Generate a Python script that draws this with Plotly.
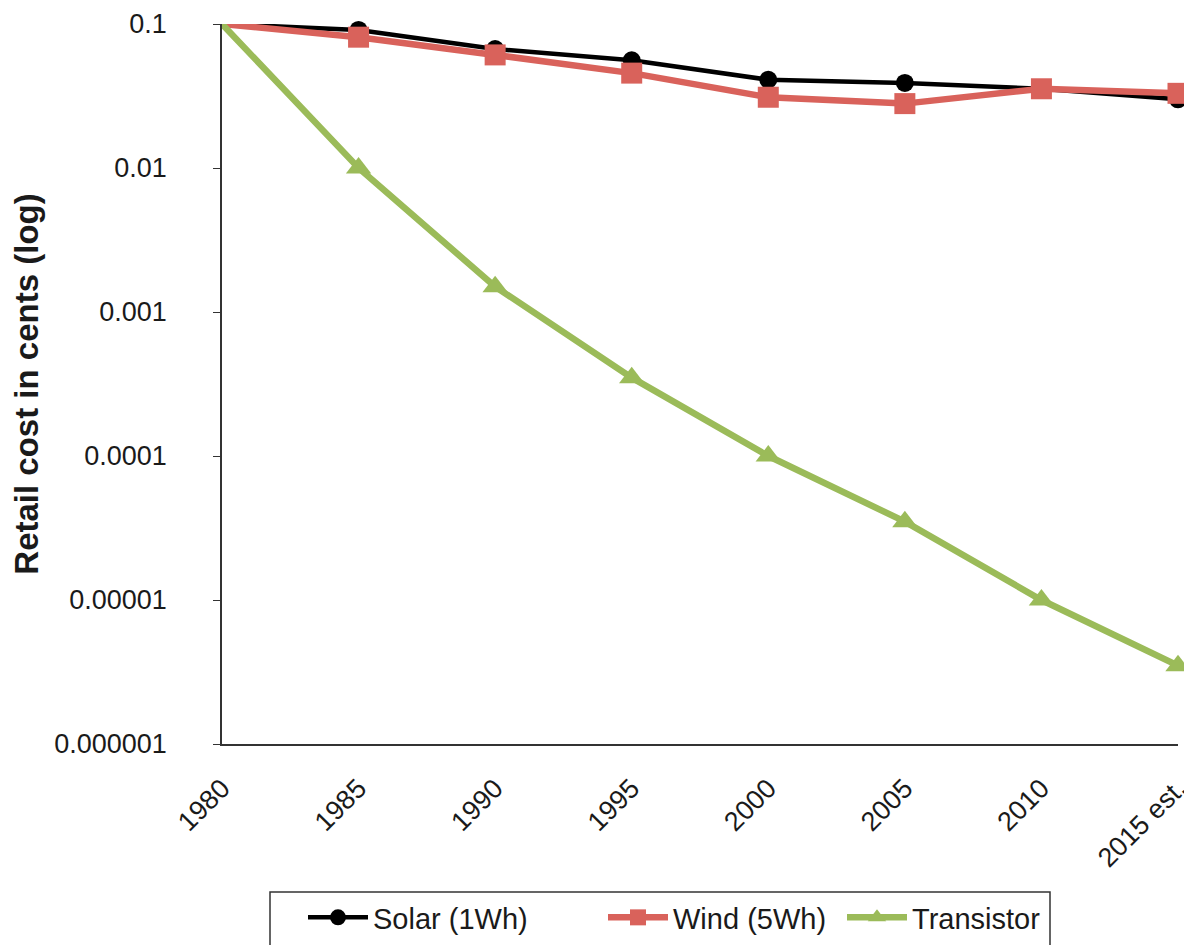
import plotly.graph_objects as go

years = ["1980", "1985", "1990", "1995", "2000", "2005", "2010", "2015 est."]
solar = [0.1, 0.091, 0.067, 0.056, 0.041, 0.039, 0.0355, 0.030]
wind = [0.1, 0.081, 0.061, 0.0456, 0.031, 0.028, 0.0355, 0.033]
transistor = [0.1, 0.01, 0.0015, 0.00035, 0.0001, 0.000035, 0.00001, 0.0000035]

ytick_vals = [0.1, 0.01, 0.001, 0.0001, 0.00001, 0.000001]
ytick_text = ["0.1", "0.01", "0.001", "0.0001", "0.00001", "0.000001"]

font_family = "Arial, Liberation Sans, sans-serif"
txt = "#1a1a1a"

fig = go.Figure()
fig.add_trace(go.Scatter(x=years, y=solar, name="Solar (1Wh)", mode="lines+markers",
                         line=dict(color="#000000", width=4.5),
                         marker=dict(symbol="circle", size=18, color="#000000"),
                         cliponaxis=False, legendwidth=225))
fig.add_trace(go.Scatter(x=years, y=wind, name="Wind (5Wh)", mode="lines+markers",
                         line=dict(color="#D9625B", width=6.5),
                         marker=dict(symbol="square", size=21, color="#D9625B"),
                         cliponaxis=False, legendwidth=164))
fig.add_trace(go.Scatter(x=years, y=transistor, name="Transistor", mode="lines+markers",
                         line=dict(color="#9BBB59", width=6.5),
                         marker=dict(symbol="triangle-up", size=22, color="#9BBB59"),
                         cliponaxis=False, legendwidth=130))

# legend frame (layout decoration)
fig.add_shape(type="rect", xref="paper", yref="paper",
              x0=(270 - 222) / 956, x1=(1050 - 222) / 956,
              y0=(744 - 892) / 720, y1=(744 - 960) / 720,
              line=dict(color="#333333", width=1.5), fillcolor="white", layer="below")

fig.update_layout(
    width=1184, height=937,
    margin=dict(l=214, r=14, t=16, b=201, autoexpand=False),
    paper_bgcolor="white", plot_bgcolor="white",
    font=dict(family=font_family, size=27, color=txt),
    showlegend=True,
    legend=dict(orientation="h", x=(303 - 222) / 956, y=(744 - 892) / 720,
                xanchor="left", yanchor="top",
                borderwidth=0, bgcolor="rgba(0,0,0,0)",
                font=dict(size=29, color=txt), itemwidth=60, tracegroupgap=0),
)
fig.update_xaxes(type="category", range=[0, 7], showline=True, linecolor="#333333", linewidth=1.5,
                 showgrid=False, tickangle=-45, ticks="", tickfont=dict(size=27, color=txt),
                 ticklabelstandoff=16, zeroline=False, automargin=False)
fig.update_yaxes(type="log", range=[-6, -1], showline=True, linecolor="#333333", linewidth=1.5,
                 showgrid=False, ticks="outside", ticklen=7, tickcolor="#333333",
                 tickvals=ytick_vals, ticktext=ytick_text, tickfont=dict(size=27, color=txt),
                 ticklabelstandoff=41,
                 title=dict(text="<b>Retail cost in cents (log)</b>", font=dict(size=33, color=txt),
                            standoff=10),
                 zeroline=False, automargin=False)

fig.write_html("out.html")
